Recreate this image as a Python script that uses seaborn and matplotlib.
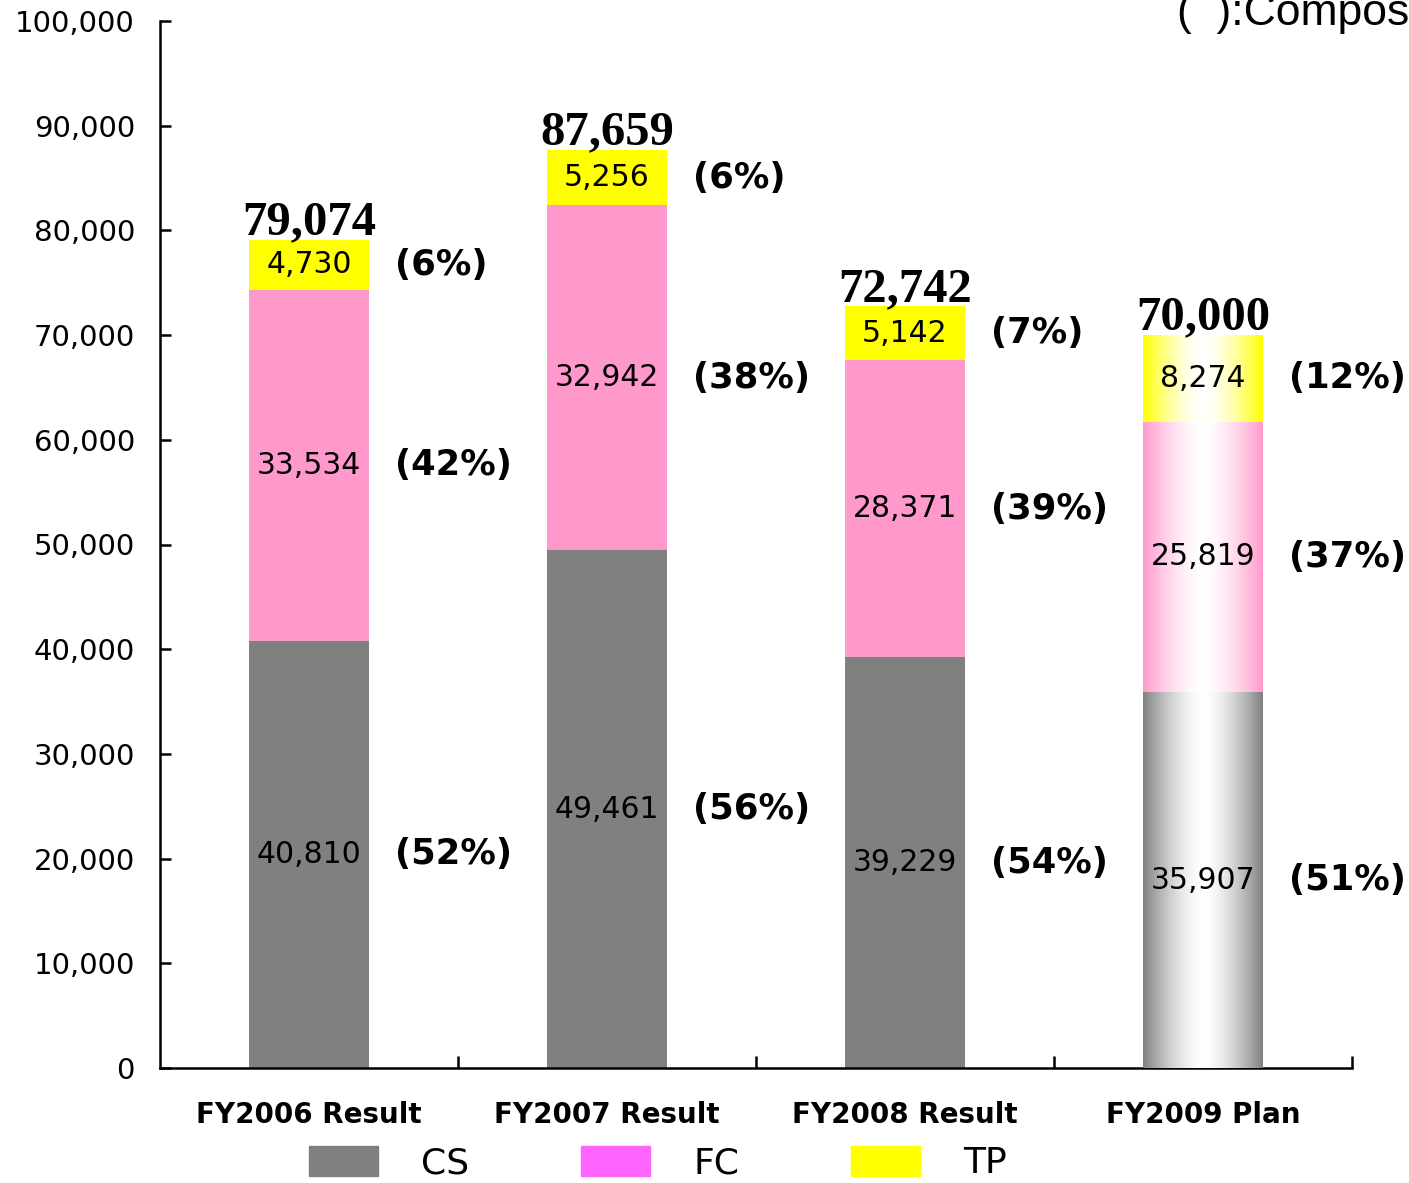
import numpy as np
import pandas as pd
import matplotlib
matplotlib.use("Agg")
import matplotlib.pyplot as plt
import seaborn as sns
from matplotlib.colors import to_rgb
from matplotlib.patches import Patch

# Sales by channel (CS / FC / TP) per fiscal year
categories = ["FY2006 Result", "FY2007 Result", "FY2008 Result", "FY2009 Plan"]
cs = [40810, 49461, 39229, 35907]
fc = [33534, 32942, 28371, 25819]
tp = [4730, 5256, 5142, 8274]
totals = [79074, 87659, 72742, 70000]
cs_pct = [52, 56, 54, 51]
fc_pct = [42, 38, 39, 37]
tp_pct = [6, 6, 7, 12]
y_ticks = list(range(0, 100001, 10000))
series_names = ["CS", "FC", "TP"]

CS_COLOR = "#808080"
FC_COLOR = "#FF99CC"
TP_COLOR = "#FFFF00"
FC_LEGEND = "#FF66FF"

sns.set_theme(style="white")
plt.rcParams["font.family"] = ["DejaVu Sans"]
plt.rcParams.update({"text.color": "black", "axes.labelcolor": "black",
                     "xtick.color": "black", "ytick.color": "black"})

W, H = 1409, 1183
fig = plt.figure(figsize=(W / 100, H / 100), dpi=100)
ax = fig.add_axes([160 / W, 1 - 1068 / H, 1192 / W, (1068 - 21) / H])

df = pd.DataFrame({"cat": categories, "cs": cs, "fc": fc, "tp": tp, "total": totals})
df["cs_fc"] = df["cs"] + df["fc"]

# Stacked bars drawn as overlapping cumulative layers
for col, color in [("total", TP_COLOR), ("cs_fc", FC_COLOR), ("cs", CS_COLOR)]:
    sns.barplot(data=df, x="cat", y=col, order=categories, color=color,
                width=0.4, saturation=1, errorbar=None, linewidth=0,
                edgecolor="none", ax=ax)

# Plan year: cylinder-like shading (base colour at edges, white centre)
plan = len(categories) - 1
bar = ax.patches[plan]
x0, bw = bar.get_x(), bar.get_width()
xs = np.linspace(0, 1, 256)
weight = np.abs(2 * xs - 1) ** 1.6
segments = [(0, cs[plan], CS_COLOR),
            (cs[plan], cs[plan] + fc[plan], FC_COLOR),
            (cs[plan] + fc[plan], totals[plan], TP_COLOR)]
for lo, hi, color in segments:
    base = np.array(to_rgb(color))
    row = weight[:, None] * base + (1 - weight[:, None]) * np.ones(3)
    img = np.repeat(row[None, :, :], 2, axis=0)
    ax.imshow(img, extent=(x0, x0 + bw, lo, hi), aspect="auto",
              interpolation="bilinear", zorder=3)

ax.set_xlim(-0.5, len(categories) - 0.5)
ax.set_ylim(0, 100000)
ax.set_yticks(y_ticks)
ax.set_yticklabels([f"{v:,}" for v in y_ticks])
ax.set_xlabel("")
ax.set_ylabel("")

for side in ["top", "right"]:
    ax.spines[side].set_visible(False)
for side in ["left", "bottom"]:
    ax.spines[side].set_linewidth(1.8)
    ax.spines[side].set_color("black")

ax.tick_params(axis="y", direction="in", length=8, width=1.8, labelsize=21,
               pad=18, left=True, colors="black")
ax.set_xticks(range(len(categories)))
ax.set_xticklabels(categories, fontweight="bold")
ax.tick_params(axis="x", which="major", length=0, pad=24, labelsize=20,
               colors="black")
ax.set_xticks([i + 0.5 for i in range(len(categories))], minor=True)
ax.tick_params(axis="x", which="minor", direction="in", length=9, width=1.8,
               bottom=True, color="black")

# Value labels inside the segments and composition ratios to the right
for i in range(len(categories)):
    mids = [cs[i] / 2, cs[i] + fc[i] / 2, cs[i] + fc[i] + tp[i] / 2]
    vals = [cs[i], fc[i], tp[i]]
    pcts = [cs_pct[i], fc_pct[i], tp_pct[i]]
    for m, v, p in zip(mids, vals, pcts):
        ax.text(i, m, f"{v:,}", ha="center", va="center", fontsize=21.5,
                color="black", zorder=5)
        ax.text(i + 0.29, m, f"({p}%)", ha="left", va="center", fontsize=25.5,
                fontweight="bold", color="black", zorder=5)
    ax.annotate(f"{totals[i]:,}", (i, totals[i]), xytext=(0, 4),
                textcoords="offset points", ha="center", va="baseline",
                family="Liberation Serif", fontweight="bold", fontsize=35,
                color="black", zorder=5)

handles = [Patch(color=CS_COLOR), Patch(color=FC_LEGEND), Patch(color=TP_COLOR)]
fig.legend(handles, series_names, loc="center",
           bbox_to_anchor=(658 / W, 1 - 1163 / H), ncol=3, frameon=False,
           fontsize=26, handlelength=1.9, handleheight=0.9, handletextpad=1.2,
           columnspacing=3.1, borderpad=0, borderaxespad=0)

# Note in the top-right corner, running past the figure edge
fig.text(1177 / W, 1 - 25 / H, "(  ):Composition ratio",
         family="Liberation Sans", fontsize=32, ha="left", va="baseline",
         color="black")

fig.savefig("out.png", dpi=100)
